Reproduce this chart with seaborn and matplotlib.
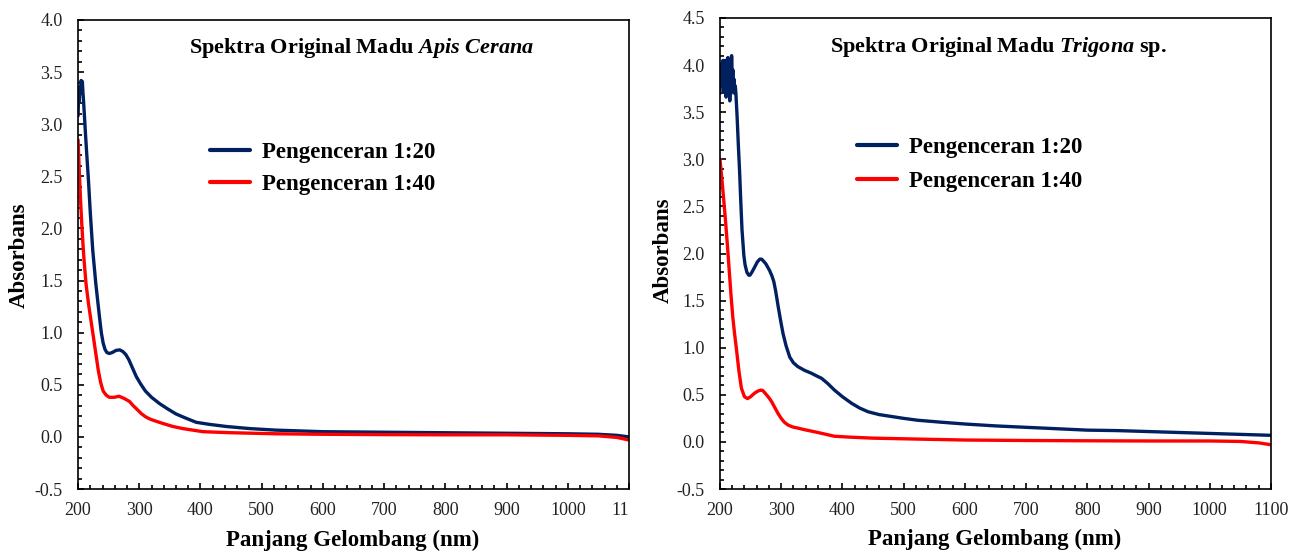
import matplotlib
matplotlib.use("Agg")
import matplotlib.pyplot as plt
from matplotlib.ticker import MultipleLocator, FormatStrFormatter
from matplotlib.transforms import Bbox, TransformedBbox
import pandas as pd
import seaborn as sns


# Apis Cerana, dilution 1:20 (wavelength nm, absorbance)
apis_w20 = [200, 201, 202, 203, 204, 205, 206, 207, 208, 209, 210, 212,
            214, 217, 220, 224, 229, 235, 238, 241, 244, 247, 251, 256,
            262, 268, 273, 278, 283, 289, 295, 302, 310, 320, 333, 346,
            360, 376, 393, 415, 442, 480, 523, 600, 700, 800, 900, 1000,
            1050, 1080, 1100]
apis_a20 = [3.08, 3.30, 3.22, 3.36, 3.30, 3.42, 3.38, 3.41, 3.30, 3.22,
            3.12, 2.92, 2.73, 2.46, 2.15, 1.79, 1.47, 1.15, 1.00, 0.90,
            0.84, 0.81, 0.80, 0.81, 0.83, 0.835, 0.82, 0.79, 0.74, 0.66,
            0.58, 0.51, 0.44, 0.38, 0.32, 0.27, 0.22, 0.18, 0.14, 0.12,
            0.10, 0.08, 0.065, 0.05, 0.045, 0.04, 0.035, 0.03, 0.025,
            0.015, 0.0]

# Apis Cerana, dilution 1:40
apis_w40 = [200, 202, 204, 206, 208, 210, 213, 217, 221, 225, 229, 233,
            237, 241, 246, 251, 259, 267, 275, 284, 290, 297, 304, 311,
            318, 325, 338, 355, 371, 404, 450, 523, 600, 700, 800, 900,
            1000, 1050, 1080, 1100]
apis_a40 = [2.85, 2.55, 2.28, 2.05, 1.85, 1.68, 1.47, 1.28, 1.12, 0.96,
            0.80, 0.64, 0.52, 0.44, 0.40, 0.38, 0.38, 0.39, 0.37, 0.34,
            0.30, 0.26, 0.22, 0.19, 0.17, 0.155, 0.13, 0.10, 0.08, 0.05,
            0.04, 0.03, 0.025, 0.022, 0.02, 0.02, 0.015, 0.01, -0.005,
            -0.03]

# Trigona sp., dilution 1:20
trig_w20 = [200, 201, 202, 203, 204, 205, 206, 207, 208, 209, 210, 211,
            212, 213, 214, 215, 216, 217, 218, 219, 220, 221, 222, 223,
            224, 225, 226, 228, 230, 232, 234, 236, 239, 241, 244, 247,
            249, 252, 257, 261, 265, 268, 271, 275, 281, 285, 288, 291,
            295, 299, 303, 308, 314, 320, 327, 338, 349, 358, 366, 376,
            387, 400, 415, 428, 442, 460, 480, 500, 523, 560, 600, 650,
            700, 750, 800, 850, 900, 950, 1000, 1050, 1100]
trig_a20 = [3.70, 3.95, 3.78, 4.02, 3.85, 4.05, 3.72, 3.98, 3.80, 4.05,
            3.66, 3.90, 3.75, 4.08, 3.70, 3.95, 3.62, 3.88, 3.70, 4.10,
            3.80, 3.95, 3.75, 3.85, 3.70, 3.78, 3.70, 3.45, 3.15, 2.88,
            2.55, 2.25, 1.98, 1.88, 1.80, 1.77, 1.77, 1.80, 1.86, 1.91,
            1.94, 1.94, 1.92, 1.89, 1.82, 1.76, 1.70, 1.60, 1.44, 1.29,
            1.15, 1.02, 0.90, 0.84, 0.80, 0.76, 0.73, 0.70, 0.675, 0.62,
            0.55, 0.48, 0.41, 0.36, 0.32, 0.29, 0.27, 0.25, 0.23, 0.21,
            0.19, 0.17, 0.155, 0.14, 0.125, 0.12, 0.11, 0.10, 0.09, 0.08,
            0.07]

# Trigona sp., dilution 1:40
trig_w40 = [200, 203, 206, 209, 212, 215, 218, 221, 224, 227, 231, 235,
            240, 245, 250, 257, 262, 267, 270, 276, 281, 285, 290, 295,
            300, 305, 311, 318, 325, 338, 360, 387, 414, 450, 523, 600,
            700, 800, 900, 1000, 1050, 1080, 1100]
trig_a40 = [3.00, 2.80, 2.58, 2.35, 2.10, 1.83, 1.56, 1.32, 1.14, 0.98,
            0.75, 0.57, 0.48, 0.46, 0.48, 0.52, 0.54, 0.55, 0.545, 0.50,
            0.46, 0.42, 0.36, 0.30, 0.25, 0.21, 0.18, 0.16, 0.15, 0.13,
            0.10, 0.06, 0.05, 0.04, 0.03, 0.02, 0.015, 0.012, 0.01, 0.01,
            0.005, -0.01, -0.03]

dilution_labels = ["Pengenceran 1:20", "Pengenceran 1:40"]
line_colors = ["#002060", "#ff0000"]


def spectrum_frame(w20, a20, w40, a40):
    return pd.concat([
        pd.DataFrame({"wavelength": w20, "absorbance": a20,
                      "dilution": dilution_labels[0]}),
        pd.DataFrame({"wavelength": w40, "absorbance": a40,
                      "dilution": dilution_labels[1]}),
    ], ignore_index=True)


sns.set_theme(style="white")
plt.rcParams["font.family"] = ["Liberation Serif", "DejaVu Serif"]
plt.rcParams["mathtext.fontset"] = "custom"
plt.rcParams["mathtext.rm"] = "Liberation Serif:bold"
plt.rcParams["mathtext.it"] = "Liberation Serif:italic:bold"
plt.rcParams["mathtext.bf"] = "Liberation Serif:bold"

figure = plt.figure(figsize=(13.01, 5.52), dpi=100)
ax_apis = figure.add_axes([0.0600, 0.1141, 0.4235, 0.8497])
ax_trig = figure.add_axes([0.5534, 0.1141, 0.4235, 0.8533])

panels = [
    (ax_apis, spectrum_frame(apis_w20, apis_a20, apis_w40, apis_a40),
     r"Spektra Original Madu $\mathit{Apis\ Cerana}$", 4.0,
     (0.514, 0.940), (0.2396, 0.740), 0.5, (-0.087, 0.499), -0.086),
    (ax_trig, spectrum_frame(trig_w20, trig_a20, trig_w40, trig_a40),
     r"Spektra Original Madu $\mathit{Trigona}$ sp.", 4.5,
     (0.5045, 0.938), (0.2486, 0.748), 0.58, (-0.0835, 0.507), -0.084),
]

for (ax, data, title, ymax, title_pos, legend_pos, row_gap,
        ylabel_pos, xlabel_y) in panels:
    sns.lineplot(
        data=data, x="wavelength", y="absorbance", hue="dilution",
        palette=line_colors, estimator=None, sort=False,
        linewidth=2.4, legend=False, ax=ax)

    ax.set_xlim(200, 1100)
    ax.set_ylim(-0.5, ymax)
    ax.xaxis.set_major_locator(MultipleLocator(100))
    ax.xaxis.set_minor_locator(MultipleLocator(20))
    ax.yaxis.set_major_locator(MultipleLocator(0.5))
    ax.yaxis.set_minor_locator(MultipleLocator(0.1))
    ax.yaxis.set_major_formatter(FormatStrFormatter("%.1f"))
    ax.tick_params(which="both", direction="in", bottom=True, left=True,
                   top=False, right=False, color="black", width=1.2,
                   labelsize=13, labelcolor="#222222")
    ax.tick_params(which="major", length=4.5)
    ax.tick_params(which="minor", length=3)
    ax.tick_params(axis="x", which="major", pad=9)
    ax.tick_params(axis="y", which="major", pad=11)
    for spine in ax.spines.values():
        spine.set_color("black")
        spine.set_linewidth(1.2)

    ax.set_xlabel("Panjang Gelombang (nm)", fontsize=16.5, fontweight="bold",
                  color="black")
    ax.set_ylabel("Absorbans", fontsize=16.5, fontweight="bold", color="black")
    ax.xaxis.set_label_coords(0.499, xlabel_y)
    ax.yaxis.set_label_coords(*ylabel_pos)

    ax.text(title_pos[0], title_pos[1], title, transform=ax.transAxes,
            ha="center", va="center", fontsize=16, fontweight="bold",
            color="black")

    legend = ax.legend(
        ax.lines[:2], dilution_labels, loc="upper left",
        bbox_to_anchor=legend_pos, frameon=False, borderpad=0,
        borderaxespad=0, handlelength=1.75, handletextpad=0.52,
        labelspacing=row_gap, prop={"size": 16.5, "weight": "bold"})
    for line in legend.get_lines():
        line.set_linewidth(3)
    for text in legend.get_texts():
        text.set_color("black")

# the original cuts the last x label of the left chart at its frame
figure.canvas.draw()
clip_box = TransformedBbox(Bbox([[-0.3, -0.5], [1.0, 1.2]]), ax_apis.transAxes)
for tick in ax_apis.xaxis.get_major_ticks():
    tick.label1.set_clip_box(clip_box)
    tick.label1.set_clip_on(True)

figure.savefig("out.png", dpi=100)
